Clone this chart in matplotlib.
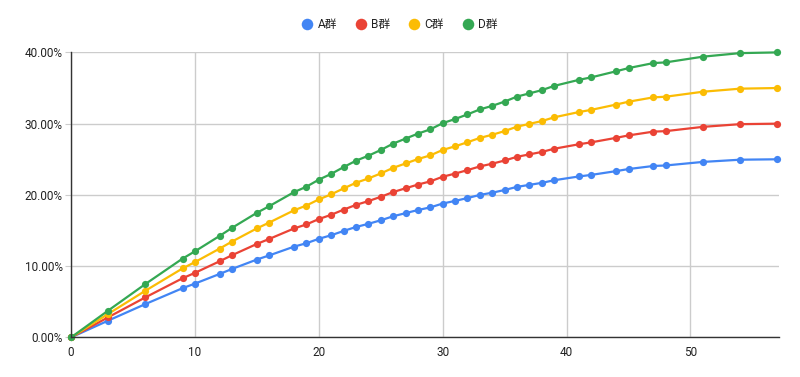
import matplotlib
matplotlib.use("Agg")
import matplotlib.pyplot as plt
from matplotlib.ticker import FuncFormatter, MultipleLocator

plt.rcParams['font.family'] = ['Roboto', 'Noto Sans CJK JP', 'DejaVu Sans']

x = [0, 3, 6, 9, 10, 12, 13, 15, 16, 18, 19, 20, 21, 22, 23, 24, 25, 26, 27, 28,
     29, 30, 31, 32, 33, 34, 35, 36, 37, 38, 39, 41, 42, 44, 45, 47, 48, 51, 54, 57]

series_names = ['A群', 'B群', 'C群', 'D群']

a_vals = [0, 2.36, 4.68, 6.91, 7.55, 8.91, 9.61, 10.93, 11.51, 12.74, 13.22, 13.84,
          14.34, 14.94, 15.50, 15.94, 16.44, 17.00, 17.44, 17.88, 18.25, 18.79, 19.16,
          19.56, 20.00, 20.31, 20.69, 21.13, 21.41, 21.69, 22.06, 22.59, 22.81, 23.34,
          23.63, 24.06, 24.13, 24.63, 24.94, 25.00]
b_vals = [0, 2.83, 5.62, 8.30, 9.06, 10.69, 11.54, 13.12, 13.82, 15.29, 15.86, 16.61,
          17.21, 17.93, 18.60, 19.13, 19.73, 20.40, 20.93, 21.45, 21.90, 22.55, 22.99,
          23.48, 24.00, 24.38, 24.83, 25.35, 25.69, 26.03, 26.48, 27.11, 27.38, 28.01,
          28.35, 28.88, 28.95, 29.55, 29.93, 30.00]
c_vals = [0, 3.30, 6.55, 9.68, 10.57, 12.47, 13.46, 15.30, 16.12, 17.84, 18.51, 19.37,
          20.08, 20.91, 21.70, 22.31, 23.01, 23.80, 24.41, 25.03, 25.55, 26.31, 26.82,
          27.39, 28.00, 28.44, 28.96, 29.58, 29.97, 30.36, 30.89, 31.63, 31.94, 32.68,
          33.08, 33.69, 33.78, 34.48, 34.91, 35.00]
d_vals = [0, 3.77, 7.49, 11.06, 12.08, 14.25, 15.38, 17.49, 18.42, 20.39, 21.15, 22.14,
          22.95, 23.90, 24.80, 25.50, 26.30, 27.20, 27.90, 28.60, 29.20, 30.07, 30.65,
          31.30, 32.00, 32.50, 33.10, 33.80, 34.25, 34.70, 35.30, 36.15, 36.50, 37.35,
          37.80, 38.50, 38.60, 39.40, 39.90, 40.00]

colors = ['#4285F4', '#EA4335', '#FBBC04', '#34A853']

fig = plt.figure(figsize=(8, 3.77), dpi=100)
ax = fig.add_axes([0.0888, 0.105, 0.885, 0.756])

for name, vals, col in zip(series_names, [a_vals, b_vals, c_vals, d_vals], colors):
    ax.plot(x, vals, color=col, lw=1.6, marker='o', markersize=5.2,
            markeredgewidth=0, label=name, clip_on=False, zorder=3)

ax.set_xlim(0, 57.15)
ax.set_ylim(0, 40)
ax.xaxis.set_major_locator(MultipleLocator(10))
ax.yaxis.set_major_locator(MultipleLocator(10))
ax.yaxis.set_major_formatter(FuncFormatter(lambda v, p: f"{v:.2f}%"))

ax.grid(True, color='#cccccc', lw=1.0, zorder=0)
ax.set_axisbelow(True)
for s in ['top', 'right']:
    ax.spines[s].set_visible(False)
for s in ['left', 'bottom']:
    ax.spines[s].set_color('#333333')
    ax.spines[s].set_linewidth(1.0)
    ax.spines[s].set_zorder(4)

ax.tick_params(axis='y', length=4, width=0.8, color='#cccccc', labelsize=8.5,
               labelcolor='#222222', pad=2)
ax.tick_params(axis='x', length=0, labelsize=8.5, labelcolor='#222222', pad=6)

leg = fig.legend(loc='center', bbox_to_anchor=(0.5, 0.934), ncol=4, frameon=False,
                 fontsize=8.5, handlelength=0.8, handletextpad=0.5, columnspacing=1.6,
                 markerscale=1.6)
for h in leg.legend_handles:
    h.set_linestyle('none')
for t in leg.get_texts():
    t.set_color('#222222')

fig.savefig('out.png', dpi=100)
